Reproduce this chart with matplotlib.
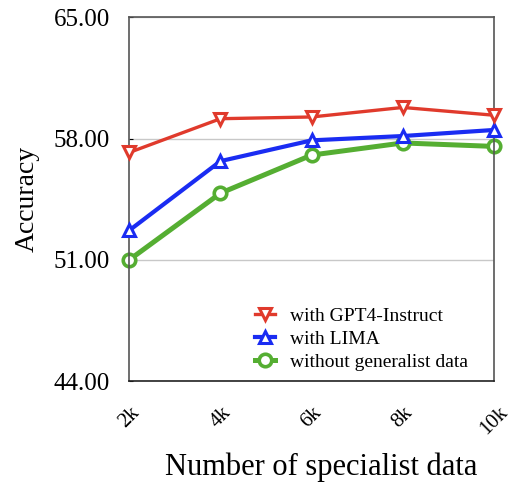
import matplotlib
matplotlib.use("Agg")
import matplotlib.pyplot as plt
from matplotlib.ticker import FormatStrFormatter

# data
sizes = ["2k", "4k", "6k", "8k", "10k"]
gpt4_instruct = [57.2, 59.15, 59.25, 59.8, 59.35]
lima = [52.7, 56.7, 57.9, 58.15, 58.5]
no_generalist = [51.0, 54.85, 57.05, 57.75, 57.55]

plt.rcParams["font.family"] = ["Liberation Serif", "DejaVu Serif"]

fig = plt.figure(figsize=(5.13, 4.83), dpi=100)
ax = fig.add_axes([0.252, 0.211, 0.711, 0.753])

xs = list(range(len(sizes)))
ax.plot(xs, gpt4_instruct, color="#E03A2C", lw=2.4, marker="v", ms=9,
        mfc="white", mec="#E03A2C", mew=2.2, label="with GPT4-Instruct",
        zorder=4, clip_on=False)
ax.plot(xs, lima, color="#1A2CF2", lw=3.0, marker="^", ms=9,
        mfc="white", mec="#1A2CF2", mew=2.2, label="with LIMA",
        zorder=3, clip_on=False)
ax.plot(xs, no_generalist, color="#55AE32", lw=3.6, marker="o", ms=9,
        mfc="white", mec="#55AE32", mew=2.6, label="without generalist data",
        zorder=2, clip_on=False)

ax.set_xlim(0, len(sizes) - 1)
ax.set_ylim(44, 65)
ax.set_yticks([44, 51, 58, 65])
ax.yaxis.set_major_formatter(FormatStrFormatter("%.2f"))
ax.set_xticks(xs)
ax.set_xticklabels(sizes, rotation=45, fontsize=15)
ax.tick_params(axis="y", labelsize=18, length=3, direction="in", pad=14)
ax.tick_params(axis="x", length=0, pad=16)
ax.grid(axis="y", color="#c8c8c8", lw=1)
ax.set_axisbelow(True)

for s in ax.spines.values():
    s.set_color("#555555")
    s.set_linewidth(1.2)
ax.spines["bottom"].set_color("#222222")

ax.set_xlabel("Number of specialist data", fontsize=22, labelpad=10)
ax.xaxis.label.set_x(0.525)
ax.set_ylabel("Accuracy", fontsize=20, labelpad=10)

ax.legend(loc="lower right", bbox_to_anchor=(0.951, 0.006), frameon=False,
          fontsize=14, handlelength=1.0, handletextpad=0.8,
          labelspacing=0.28, borderaxespad=0)

fig.savefig("out.png", dpi=100)
